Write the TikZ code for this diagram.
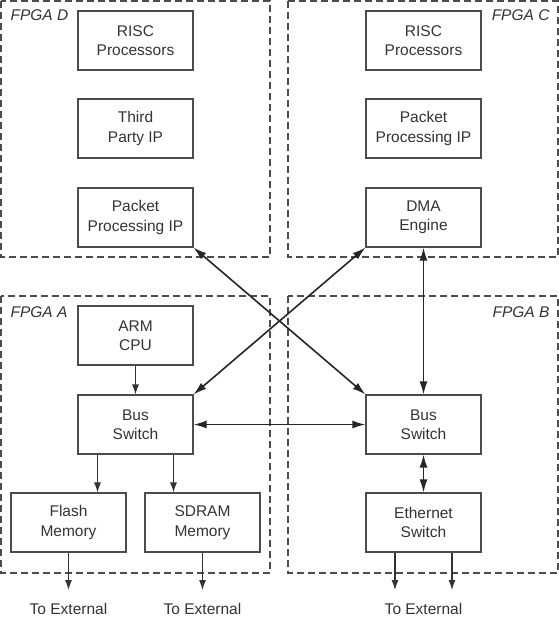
\documentclass[tikz,border=0pt]{standalone}
\usepackage{fontspec}
\setmainfont{Liberation Sans}
\usetikzlibrary{arrows.meta}
\newcommand\diafont{\fontsize{15.5}{19.5}\selectfont}

\begin{document}
\begin{tikzpicture}[x=1pt, y=-1pt, font=\diafont, text=black!80,
    fpga/.style={draw=black!70, line width=1.1pt, dash pattern=on 7pt off 4pt},
    fpgalabel/.style={font=\diafont\itshape},
    block/.style={draw=black!70, line width=1.1pt, minimum width=115pt,
        minimum height=59pt, align=center, inner sep=0pt},
    buslink/.style={{Latex[length=13pt,width=8pt]}-{Latex[length=13pt,width=8pt]},
        draw=black!85, line width=1.6pt},
    wire/.style={-{Latex[length=10pt,width=7pt]}, draw=black!80, line width=1.1pt}]
    \useasboundingbox (0,0) rectangle (559,619);

    % The four FPGAs as dashed regions
    \foreach \xa/\ya/\xb/\yb in {
        1/1/270/257, 288/1/558/257, 1/296/270/573, 288/296/558/573
    }
    \draw[fpga] (\xa,\ya) rectangle (\xb,\yb);
    \node[fpgalabel, anchor=base west] (labD) at (7,20.5) {FPGA D};
    \node[fpgalabel, anchor=base east] (labC) at (553,20.5) {FPGA C};
    \node[fpgalabel, anchor=base west] (labA) at (7,317) {FPGA A};
    \node[fpgalabel, anchor=base east] (labB) at (553,317) {FPGA B};

    % FPGA D
    \node[block] (riscD) at (135.5,40.5) {RISC\\Processors};
    \node[block] (thirdD) at (135.5,128.5) {Third\\Party IP};
    \node[block] (packetD) at (135.5,217.5) {Packet\\Processing IP};

    % FPGA C
    \node[block] (riscC) at (423.5,40.5) {RISC\\Processors};
    \node[block] (packetC) at (423.5,128.5) {Packet\\Processing IP};
    \node[block] (dma) at (423.5,217.5) {DMA\\Engine};

    % FPGA A
    \node[block] (arm) at (135.5,335.5) {ARM\\CPU};
    \node[block] (busA) at (135.5,424.5) {Bus\\Switch};
    \node[block] (flash) at (68.5,522.5) {Flash\\Memory};
    \node[block] (sdram) at (202.5,522.5) {SDRAM\\Memory};

    % FPGA B
    \node[block] (busB) at (423.5,424.5) {Bus\\Switch};
    \node[block] (eth) at (423.5,522.5) {Ethernet\\Switch};

    % Outputs to the outside world
    \coordinate (extF) at (68.5,590);
    \coordinate (extS) at (202.5,590);
    \coordinate (extE1) at (395,590);
    \coordinate (extE2) at (452,590);
    \node[anchor=base] (txtF) at (68.5,614.5) {To External};
    \node[anchor=base] (txtS) at (202.5,614.5) {To External};
    \node[anchor=base] (txtE) at (423.5,614.5) {To External};

    % Arrows inside FPGA A
    \coordinate (fA) at ([xshift=-38pt]busA.south);
    \coordinate (sA) at ([xshift=38pt]busA.south);
    \draw[wire] (arm) -- (busA);
    \draw[wire] (fA) -- (fA |- flash.north);
    \draw[wire] (sA) -- (sA |- sdram.north);
    \draw[wire] (flash) -- (extF);
    \draw[wire] (sdram) -- (extS);

    % Arrows out of the Ethernet switch
    \draw[wire] (eth.south -| extE1) -- (extE1);
    \draw[wire] (eth.south -| extE2) -- (extE2);

    % Links between the FPGAs
    \draw[buslink] (busA) -- (busB);
    \draw[buslink] (dma) -- (busB);
    \draw[buslink] (busB) -- (eth);
    \draw[buslink] (busA.north east) -- (dma.south west);
    \draw[buslink] (packetD.south east) -- (busB.north west);
\end{tikzpicture}
\end{document}
